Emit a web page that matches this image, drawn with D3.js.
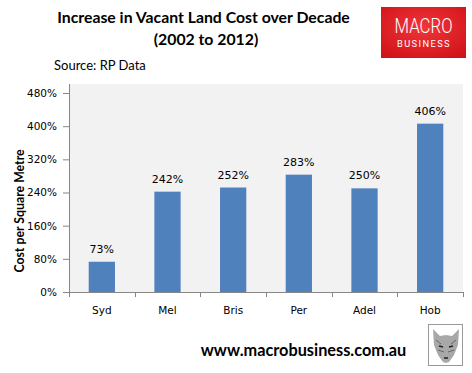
<!DOCTYPE html>
<html><head><meta charset="utf-8">
<script src="https://cdn.jsdelivr.net/npm/d3@7"></script>
<style>body{margin:0;background:#fff}svg{display:block}</style>
</head><body>
<svg id="c" width="472" height="373"></svg>
<script>
const categories = ["Syd","Mel","Bris","Per","Adel","Hob"];
const values = [73,242,252,283,250,406];
const yTicks = [0,80,160,240,320,400,480];

(function(){
const svg = d3.select("#c");
const W=472,H=373;
svg.append("rect").attr("width",W).attr("height",H).attr("fill","#fff");

const pL=69,pR=463,pT=84,pB=292;
const x = d3.scaleBand().domain(categories).range([pL,pR]).paddingInner(0.6).paddingOuter(0.3);
const y = d3.scaleLinear().domain([0,480]).range([pB,pT+9]);

svg.append("rect").attr("x",pL).attr("y",pT).attr("width",pR-pL).attr("height",pB-pT).attr("fill","#f2f2f2");

svg.selectAll("rect.bar").data(values).enter().append("rect").attr("class","bar")
  .attr("x",(d,i)=>x(categories[i])).attr("width",x.bandwidth())
  .attr("y",d=>y(d)).attr("height",d=>pB-y(d)).attr("fill","#4f81bd");

svg.selectAll("text.lbl").data(values).enter().append("text")
  .attr("x",(d,i)=>x(categories[i])+x.bandwidth()/2).attr("y",d=>y(d)-9)
  .attr("text-anchor","middle").attr("font-family","DejaVu Sans").attr("font-size",11).attr("fill","#000")
  .text(d=>d+"%");

const ya = d3.axisLeft(y).tickValues(yTicks).tickFormat(d=>d+"%").tickSize(6).tickSizeOuter(0);
const gy = svg.append("g").attr("transform",`translate(${pL},0)`).call(ya);
gy.select(".domain").attr("stroke","#868686").attr("d",`M0.5,${pT}V${pB}`);
gy.selectAll(".tick line").attr("stroke","#868686");
gy.selectAll(".tick text").attr("font-family","DejaVu Sans").attr("font-size",10.5).attr("fill","#000").attr("x",-12);

const xa = svg.append("g").attr("transform",`translate(0,${pB})`);
xa.append("line").attr("x1",pL).attr("x2",pR).attr("y1",0.5).attr("y2",0.5).attr("stroke","#868686");
const step = x.step();
const edges = d3.range(categories.length+1).map(i=> i<categories.length ? x(categories[i]) - x.paddingInner()*step/2 : x(categories[i-1]) + x.bandwidth() + x.paddingInner()*step/2);
xa.selectAll("line.t").data(edges).enter().append("line")
  .attr("x1",d=>Math.round(d)+0.5).attr("x2",d=>Math.round(d)+0.5).attr("y1",0).attr("y2",5).attr("stroke","#868686");
xa.selectAll("text").data(categories).enter().append("text")
  .attr("x",d=>x(d)+x.bandwidth()/2).attr("y",22).attr("text-anchor","middle")
  .attr("font-family","DejaVu Sans").attr("font-size",10.5).attr("fill","#000").text(d=>d);

svg.append("text").attr("transform","translate(24,211) rotate(-90)").attr("text-anchor","middle")
  .attr("font-family","Lato").attr("font-weight","bold").attr("font-size",12.3).text("Cost per Square Metre");

svg.append("text").attr("x",203.5).attr("y",23).attr("text-anchor","middle")
  .attr("font-family","Lato").attr("font-weight","bold").attr("font-size",15.8).text("Increase in Vacant Land Cost over Decade");
svg.append("text").attr("x",206).attr("y",45).attr("text-anchor","middle")
  .attr("font-family","Lato").attr("font-weight","bold").attr("font-size",15.8).text("(2002 to 2012)");
svg.append("text").attr("x",54).attr("y",70)
  .attr("font-family","Lato").attr("font-size",13).text("Source: RP Data");

const defs = svg.append("defs");
const rg = defs.append("radialGradient").attr("id","lg").attr("cx","50%").attr("cy","40%").attr("r","70%");
rg.append("stop").attr("offset","0%").attr("stop-color","#f0363b");
rg.append("stop").attr("offset","100%").attr("stop-color","#d01318");
svg.append("rect").attr("x",381).attr("y",7).attr("width",85).attr("height",51).attr("fill","url(#lg)");
svg.append("text").attr("transform","translate(423.5,32.8) scale(1.05,1.25)").attr("text-anchor","middle").attr("fill","#fff")
  .attr("font-family","Roboto").attr("font-weight","300").attr("font-size",16).text("MACRO");
svg.append("text").attr("x",424).attr("y",46.5).attr("text-anchor","middle").attr("fill","#fff")
  .attr("font-family","Roboto").attr("font-size",9.3).attr("letter-spacing",1.4).text("BUSINESS");

svg.append("text").attr("x",303.5).attr("y",356).attr("text-anchor","middle")
  .attr("font-family","Lato").attr("font-weight","bold").attr("font-size",16.3).text("www.macrobusiness.com.au");

svg.append("rect").attr("x",428.5).attr("y",324.5).attr("width",34).attr("height",41).attr("fill","#fff").attr("stroke","#999");
const wg = svg.append("g");
wg.append("path").attr("d","M433,329 L440,336 L446,335 L452,336 L459,329 L458,345 L454,355 L449,362 L446,363 L443,362 L438,355 L434,345 Z")
  .attr("fill","#a8a8a8");
wg.append("path").attr("d","M436,340 L441,344 M456,340 L451,344 M438,350 L444,352 M454,350 L448,352").attr("stroke","#666").attr("stroke-width",1);
wg.append("path").attr("d","M439,346 L443,347 M449,347 L453,346 M444,358 L448,358").attr("stroke","#222").attr("stroke-width",1.5);
})();
</script>
</body></html>
